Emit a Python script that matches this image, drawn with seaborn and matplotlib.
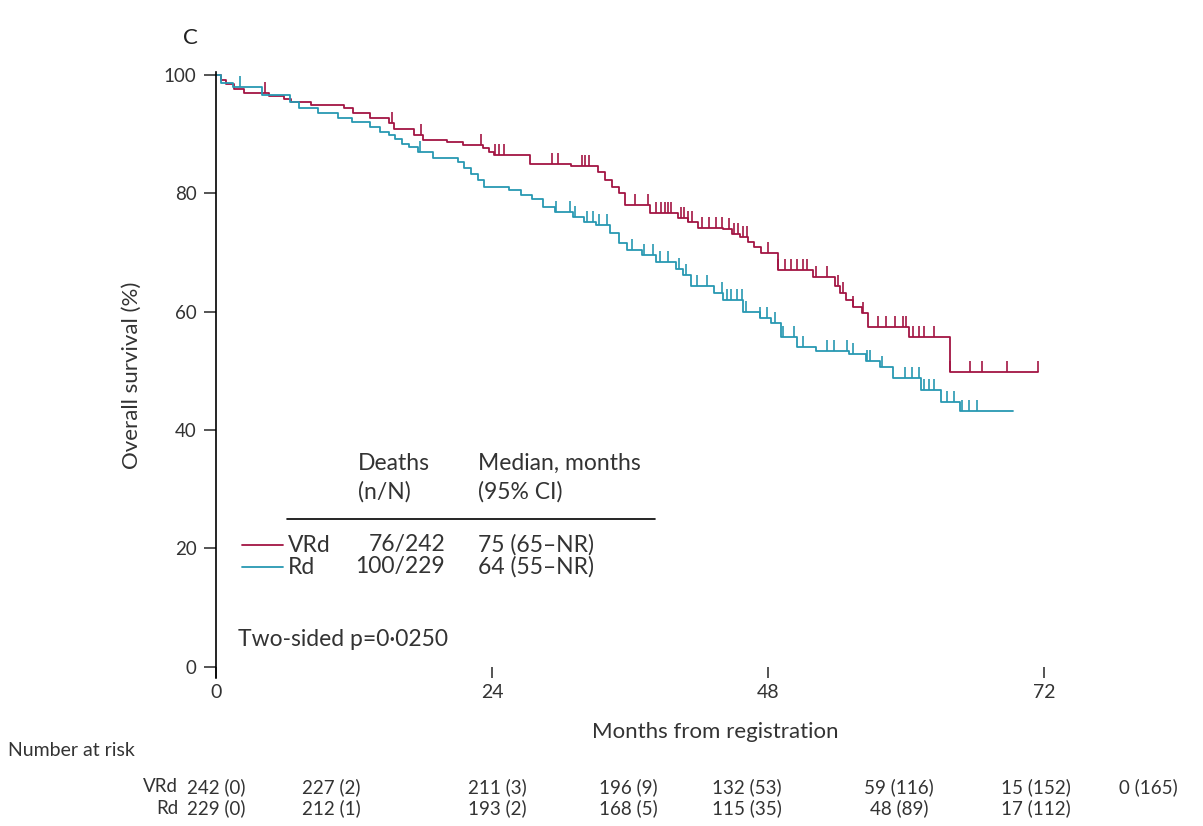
import numpy as np
import pandas as pd
import matplotlib
matplotlib.use("Agg")
import matplotlib.pyplot as plt
import seaborn as sns
from matplotlib.markers import MarkerStyle
from matplotlib.path import Path

# Kaplan-Meier steps (months, % alive)
vrd_time = [0, 0.4, 0.9, 1.6, 2.4, 4.6, 5.9, 6.5, 8.3, 11.1, 11.9, 13.4, 15.0, 15.5, 17.2,
            18.0, 20.1, 21.5, 23.2, 23.7, 24.2, 27.3, 30.9, 33.2, 33.8, 34.4, 35.0, 35.6,
            37.7, 40.2, 41.0, 41.9, 44.1, 44.9, 45.6, 46.3, 46.8, 47.4, 48.9, 51.9, 53.8,
            54.3, 54.8, 55.4, 56.2, 56.7, 60.3, 63.8, 71.5]
vrd_surv = [100, 99.2, 98.4, 97.6, 96.9, 96.5, 95.9, 95.4, 94.9, 94.4, 93.6, 92.7, 91.9, 90.9,
            89.9, 89.0, 88.6, 88.2, 87.6, 87.0, 86.4, 85.0, 84.6, 83.6, 82.2, 81.0, 80.0, 78.0,
            76.7, 75.9, 75.2, 74.2, 73.9, 73.2, 72.6, 71.8, 71.0, 69.9, 67.1, 65.9, 64.4,
            63.2, 62.0, 60.8, 59.8, 57.4, 55.7, 49.8, 49.8]
vrd_cens = [4.3, 15.3, 17.8, 23.0, 24.3, 24.6, 25.0, 29.2, 29.7, 31.8, 32.1, 32.4, 36.4, 37.6,
            38.3, 38.7, 39.0, 39.3, 39.6, 40.4, 40.7, 41.0, 41.4, 42.3, 42.9, 43.5, 44.0, 44.6,
            45.0, 45.4, 45.8, 46.2, 48.0, 48.9, 49.5, 50.0, 50.5, 51.0, 51.4, 52.2, 53.1, 54.1,
            54.5, 55.4, 56.3, 57.6, 58.3, 59.0, 59.7, 60.0, 60.6, 61.1, 61.6, 62.4, 63.8, 65.6,
            66.6, 68.8, 71.5]

rd_time = [0, 0.4, 1.5, 4.0, 6.4, 7.2, 8.9, 10.6, 11.8, 13.4, 14.3, 15.0, 15.6, 16.2, 16.8,
           17.6, 18.9, 21.0, 21.6, 22.2, 22.8, 23.3, 25.5, 26.5, 27.5, 28.4, 29.5, 31.0, 32.0,
           33.0, 34.3, 35.0, 35.7, 37.0, 38.3, 40.0, 40.6, 41.3, 43.3, 44.1, 45.8, 47.3, 48.3,
           49.1, 50.5, 52.2, 55.0, 56.5, 57.7, 58.9, 61.3, 63.0, 64.7, 69.3]
rd_surv = [100, 98.6, 98.0, 96.6, 95.4, 94.4, 93.6, 92.7, 92.1, 91.2, 90.4, 89.9, 89.2, 88.4,
           87.8, 87.0, 86.0, 85.3, 84.2, 83.2, 82.2, 81.1, 80.6, 79.8, 79.0, 77.7, 76.9, 76.0,
           75.2, 74.6, 73.3, 71.6, 70.4, 69.6, 68.4, 67.2, 66.2, 64.4, 63.2, 62.0, 60.0, 59.0,
           58.1, 55.7, 54.1, 53.3, 52.8, 51.6, 50.6, 48.8, 46.8, 44.8, 43.2, 43.2]
rd_cens = [2.1, 17.7, 29.6, 30.8, 31.2, 32.3, 32.8, 33.3, 34.0, 36.2, 37.2, 38.0, 38.6, 39.3,
           40.3, 40.9, 41.8, 42.7, 44.0, 44.4, 44.8, 45.3, 45.7, 46.1, 47.3, 47.9, 48.6, 49.3,
           50.3, 51.0, 53.1, 53.7, 54.9, 55.4, 56.6, 56.9, 57.9, 59.9, 60.5, 61.1, 61.6, 62.0,
           62.4, 63.6, 64.2, 64.9, 65.5, 66.2]

arms = ["VRd", "Rd"]
deaths = ["76/242", "100/229"]
medians = ["75 (65\u2013NR)", "64 (55\u2013NR)"]

vrd_risk = ["242 (0)", "227 (2)", "211 (3)", "196 (9)", "132 (53)", "59 (116)", "15 (152)", "0 (165)"]
rd_risk = ["229 (0)", "212 (1)", "193 (2)", "168 (5)", "115 (35)", "48 (89)", "17 (112)"]

colors = {"VRd": "#a31543", "Rd": "#2798b2"}
txt = "#333333"

sns.set_theme(style="ticks")
plt.rcParams['font.family'] = ['Lato', 'DejaVu Sans']

fig = plt.figure(figsize=(12.03, 8.26), dpi=100)
W, H = 1203, 826
ax = fig.add_axes([216 / W, 1 - 678 / H, 828 / W, 606 / H])

# upward censor tick
cens_marker = MarkerStyle(Path([(0, 0), (0, 1)]))

data = {"VRd": (vrd_time, vrd_surv, vrd_cens), "Rd": (rd_time, rd_surv, rd_cens)}
for arm in arms:
    t, s, c = data[arm]
    df = pd.DataFrame({"Months": t, "Survival": s})
    sns.lineplot(data=df, x="Months", y="Survival", drawstyle="steps-post", estimator=None,
                 color=colors[arm], lw=1.3, ax=ax)
    idx = np.searchsorted(t, c, side="right") - 1
    cdf = pd.DataFrame({"Months": c, "Survival": np.array(s)[idx]})
    sns.scatterplot(data=cdf, x="Months", y="Survival", marker=cens_marker, s=260,
                    color=colors[arm], edgecolor=colors[arm], linewidth=1.2, ax=ax, legend=False)

ax.set_xlim(0, 72)
ax.set_ylim(-1.9, 100.5)
ax.set_xticks([0, 24, 48, 72])
ax.set_yticks([0, 20, 40, 60, 80, 100])
for side in ["top", "right", "bottom"]:
    ax.spines[side].set_visible(False)
ax.spines["left"].set_linewidth(1.2)
ax.spines["left"].set_color("black")
ax.tick_params(axis="y", direction="out", length=9, width=1.1, pad=5, labelsize=13.5, labelcolor=txt)
ax.tick_params(axis="x", direction="in", length=8, width=1.1, pad=4, labelsize=14, labelcolor=txt)

ax.set_ylabel("Overall survival (%)", fontsize=16, color=txt)
ax.yaxis.set_label_coords((142 - 216) / 828, 0.5)
ax.set_xlabel("Months from registration", fontsize=16, color=txt)
ax.xaxis.set_label_coords((715 - 216) / 828, (678 - 722) / 606)


def axp(px, py):
    return (px - 216) / 828, (678 - py) / 606


fs = 16.5
ax.text(*axp(358, 463), "Deaths", transform=ax.transAxes, fontsize=fs, color=txt, va="center")
ax.text(*axp(358, 492), "(n/N)", transform=ax.transAxes, fontsize=fs, color=txt, va="center")
ax.text(*axp(478, 463), "Median, months", transform=ax.transAxes, fontsize=fs, color=txt, va="center")
ax.text(*axp(478, 492), "(95% CI)", transform=ax.transAxes, fontsize=fs, color=txt, va="center")
x0, y0 = axp(287, 519)
x1, _ = axp(655, 519)
ax.plot([x0, x1], [y0, y0], transform=ax.transAxes, color="black", lw=1.2)
for i, arm in enumerate(arms):
    ypx = 545 + 22 * i
    lx0, ly = axp(242, ypx)
    lx1, _ = axp(283, ypx)
    ax.plot([lx0, lx1], [ly, ly], transform=ax.transAxes, color=colors[arm], lw=1.3)
    ax.text(*axp(288, ypx), arm, transform=ax.transAxes, fontsize=fs, color=txt, va="center")
    ax.text(*axp(445, ypx), deaths[i], transform=ax.transAxes, fontsize=fs, color=txt,
            va="center", ha="right")
    ax.text(*axp(478, ypx), medians[i], transform=ax.transAxes, fontsize=fs, color=txt,
            va="center")
ax.text(*axp(238, 640), "Two-sided p=0\u00b70250", transform=ax.transAxes, fontsize=fs,
        color=txt, va="center")

fig.text(183 / W, 1 - 38 / H, "C", fontsize=16, color="#222222", va="center")

# number at risk (column centres as laid out in the source figure)
risk_x = [216, 331, 497, 628, 747, 899, 1036, 1148]
fig.text(8 / W, 1 - 750 / H, "Number at risk", fontsize=14, color=txt, va="center")
for arm, vals, ypx in [("VRd", vrd_risk, 787), ("Rd", rd_risk, 808)]:
    fig.text(178 / W, 1 - ypx / H, arm, fontsize=13.5, color=txt, va="center", ha="right")
    for xp, v in zip(risk_x, vals):
        fig.text(xp / W, 1 - ypx / H, v, fontsize=13.5, color=txt, va="center", ha="center")

fig.savefig("out.png", dpi=100)
